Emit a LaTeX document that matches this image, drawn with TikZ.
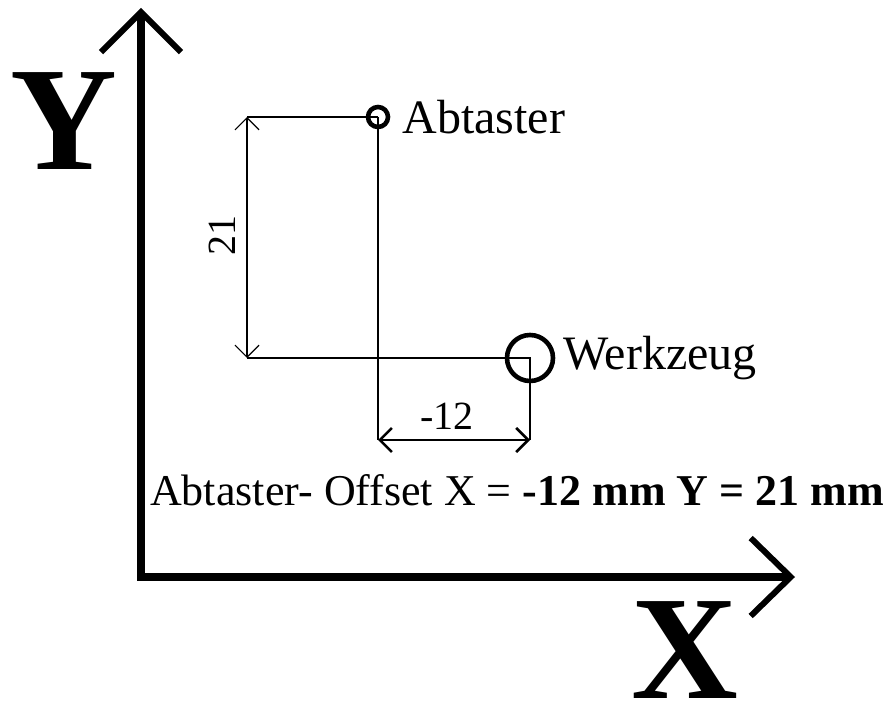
\documentclass[tikz,border=0pt]{standalone}
\usepackage{fontspec}
\setmainfont{Liberation Serif}
\usetikzlibrary{arrows.meta, positioning, calc}
\definecolor{ink}{HTML}{000000}
\tikzset{el/.style={line cap=butt, line join=miter}}

\begin{document}
\begin{tikzpicture}[el, x=1pt, y=-1pt,
     axis/.style={draw=ink, line width=8pt,
        {Straight Barb[length=40pt, width=80pt, line width=6pt]}-{Straight Barb[length=40pt, width=78pt, line width=6pt]}},
     dim/.style={draw=ink, line width=1.2pt,
        {Straight Barb[length=12pt, width=24pt]}-{Straight Barb[length=12pt, width=24pt]}},
     thin/.style={draw=ink, line width=1.4pt},
     lead/.style={draw=ink, line width=2.8pt},
     ring/.style={circle, draw=ink, line width=4.6pt, inner sep=0pt},
     lbl/.style={font=\fontsize{48}{52}\selectfont, inner sep=0pt},
     dlbl/.style={font=\fontsize{40}{44}\selectfont, inner sep=0pt},
     big/.style={font=\fontsize{148}{154}\selectfont\bfseries, inner sep=0pt}]
     \useasboundingbox (0,0) rectangle (894,711);
     % axes
     \coordinate (ytip) at (141,8);
     \coordinate (o) at (141,577);
     \coordinate (xtip) at (795,577);
     \draw[axis] (ytip) -- (o) -- (xtip);
     \node[big, anchor=base] (ylab) at (64,170) {Y};
     \node[big, anchor=base] (xlab) at (685,698) {X};
     % probe and tool
     \node[ring, minimum size=20pt] (abt) at (378,117) {};
     \node[lbl, right=12pt of abt] (abtl) {Abtaster};
     \node[ring, minimum size=46pt] (wkz) at (530,358) {};
     \node[lbl, right=8pt of wkz] (wkzl) {Werkzeug};
     % dimension points
     \coordinate (dya) at (247,117);
     \coordinate (dyb) at (247,358);
     \coordinate (dxa) at (378,440);
     \coordinate (dxb) at (530,440);
     \draw[thin] (dya) -- (abt.center);
     \draw[thin] (dyb) -- (wkz.center) -- (dxb);
     \draw[lead] (abt.center) -- (dxa);
     \draw[dim] (dya) -- (dyb);
     \draw[dim, line width=2.6pt] (dxa) -- (dxb);
     \node[dlbl, rotate=90] (ylen) at (222,236) {21};
     \node[dlbl] (xlen) at (447,416) {-12};
     \node[dlbl, font=\fontsize{44}{47}\selectfont, anchor=base west] (info) at (150,505)
        {Abtaster- Offset X = \textbf{-12 mm Y = 21 mm}};
  \end{tikzpicture}
\end{document}
